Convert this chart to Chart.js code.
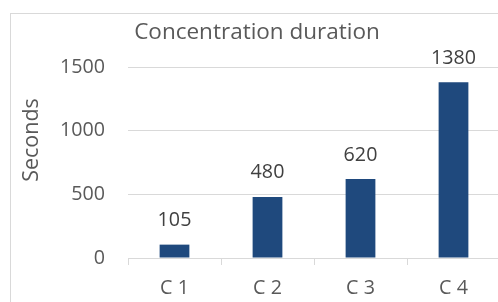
<!DOCTYPE html>
<html lang="en">
<head>
  <meta charset="UTF-8">
  <title>Concentration duration</title>
  <style>
    html, body { margin: 0; padding: 0; background: #fff; overflow: hidden; }
  </style>
</head>
<body>
  <div>
    <canvas id="myChart" width="520" height="302"></canvas>
  </div>

  <script src="https://cdn.jsdelivr.net/npm/chart.js"></script>
  <script>
    // chart values
    const categories = ['C 1', 'C 2', 'C 3', 'C 4'];
    const seconds = [105, 480, 620, 1380];
    const yTicks = [0, 500, 1000, 1500];
    const chartTitle = 'Concentration duration';
    const yTitle = 'Seconds';

    const textColor = '#595959';
    const gridColor = '#d9d9d9';
    const barColor = '#1f497d';
    const fontName = "'Open Sans', sans-serif";

    Chart.defaults.font.family = fontName;
    Chart.defaults.color = textColor;

    // white background + light frame around the whole chart
    const frame = {
      id: 'frame',
      beforeDraw(chart) {
        const ctx = chart.ctx;
        ctx.save();
        ctx.fillStyle = '#fff';
        ctx.fillRect(0, 0, chart.width, chart.height);
        ctx.strokeStyle = gridColor;
        ctx.lineWidth = 1;
        ctx.strokeRect(10.5, 13.5, 600, 400);
        ctx.restore();
      }
    };

    // value labels above the bars + rotated axis title
    const labels = {
      id: 'labels',
      afterDatasetsDraw(chart) {
        const ctx = chart.ctx;
        const meta = chart.getDatasetMeta(0);
        ctx.save();
        ctx.font = '19.7px ' + fontName;
        ctx.fillStyle = '#404040';
        ctx.textAlign = 'center';
        ctx.textBaseline = 'middle';
        meta.data.forEach((bar, i) => {
          ctx.fillText(String(seconds[i]), bar.x, bar.y - 24);
        });

        ctx.font = '21.5px ' + fontName;
        ctx.fillStyle = textColor;
        ctx.translate(32, 140);
        ctx.rotate(-Math.PI / 2);
        ctx.fillText(yTitle, 0, 0);
        ctx.restore();
      }
    };

    const data = {
      labels: categories,
      datasets: [{
        label: yTitle,
        data: seconds,
        backgroundColor: barColor,
        borderWidth: 0,
        categoryPercentage: 1,
        barPercentage: 0.32
      }]
    };

    const config = {
      type: 'bar',
      data: data,
      options: {
        responsive: false,
        animation: false,
        layout: {
          padding: { left: 14, right: 20, top: 0, bottom: 0 }
        },
        plugins: {
          legend: { display: false },
          tooltip: { enabled: false },
          title: {
            display: true,
            text: chartTitle,
            color: textColor,
            font: { size: 22.5, weight: 'normal' },
            padding: { top: 19.5, bottom: 20.5 }
          }
        },
        scales: {
          x: {
            grid: {
              offset: true,
              drawOnChartArea: false,
              drawTicks: true,
              tickLength: 7,
              color: gridColor
            },
            border: { display: true, color: gridColor },
            ticks: {
              color: textColor,
              font: { size: 19.7 },
              padding: 12
            },
            afterFit(scale) { scale.height = 44; }
          },
          y: {
            min: 0,
            max: 1500,
            grid: { color: gridColor, drawTicks: false },
            border: { display: false },
            ticks: {
              color: textColor,
              font: { size: 19.7 },
              padding: 23,
              callback: (value) => String(value)
            },
            afterBuildTicks(scale) {
              scale.ticks = yTicks.map(v => ({ value: v }));
            },
            afterFit(scale) { scale.width = 114; }
          }
        }
      },
      plugins: [frame, labels]
    };

    const myChart = new Chart(document.getElementById('myChart'), config);
  </script>
</body>
</html>
